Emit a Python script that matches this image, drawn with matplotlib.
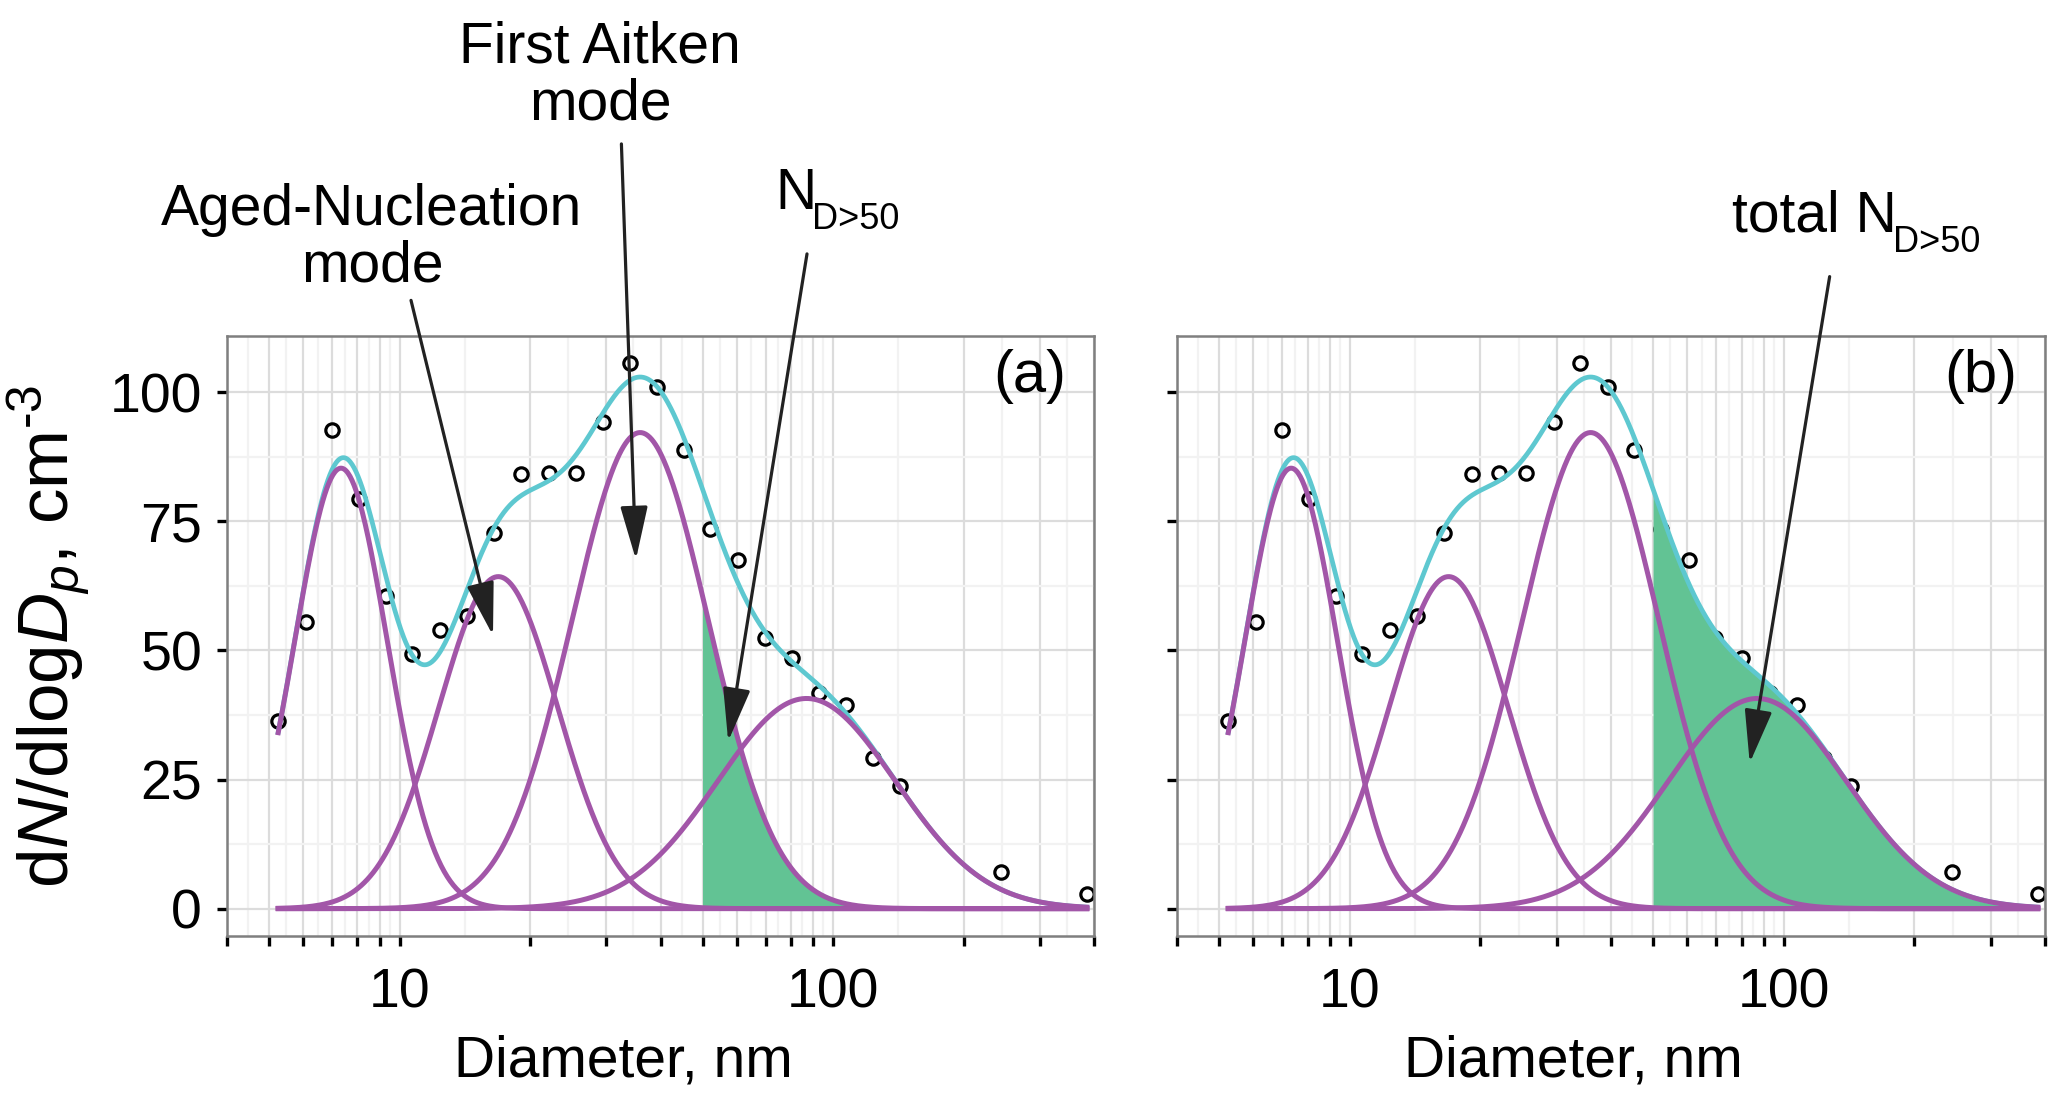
import numpy as np
import matplotlib
matplotlib.use("Agg")
import matplotlib.pyplot as plt
from matplotlib.ticker import NullFormatter

plt.rcParams['font.family'] = ['Liberation Sans', 'DejaVu Sans']
plt.rcParams['mathtext.fontset'] = 'custom'
plt.rcParams['mathtext.rm'] = 'Liberation Sans'
plt.rcParams['mathtext.it'] = 'Liberation Sans:italic'
plt.rcParams['mathtext.bf'] = 'Liberation Sans:bold'

# measured size distribution
diam_nm = [5.25, 6.07, 7.0, 8.05, 9.31, 10.7, 12.4, 14.3, 16.5, 19.1, 22.1, 25.5,
           29.5, 34.0, 39.3, 45.2, 52.1, 60.4, 69.6, 80.3, 92.9, 107.4, 123.6,
           142.6, 244.0, 385.0]
dn_dlogdp = [36.3, 55.6, 92.7, 79.4, 60.6, 49.3, 53.9, 56.7, 72.7, 84.2, 84.4, 84.3,
             94.3, 105.7, 101.1, 88.8, 73.6, 67.5, 52.4, 48.5, 41.7, 39.4, 29.2,
             23.8, 7.0, 2.9]

# fitted lognormal modes: mode diameter (nm), peak height, width in log10 units
mode_dg = [7.33, 16.9, 35.9, 86.9]
mode_peak = [85.3, 64.3, 92.2, 40.7]
mode_sigma = [0.107, 0.137, 0.157, 0.205]

cut_nm = 50
x_ticks = [4, 5, 6, 7, 8, 9, 10, 20, 30, 40, 50, 60, 70, 80, 90, 100, 200, 300, 400]
x_labels = [str(t) if t in (10, 100) else '' for t in x_ticks]
y_ticks = [0, 25, 50, 75, 100]
y_minor = [12.5, 37.5, 62.5, 87.5]

PURPLE = '#a256a8'
CYAN = '#5ec8d0'
GREEN = '#62c394'
ARROW = '#222222'


def lognormal(d, dg, peak, sigma):
    return peak * np.exp(-0.5 * ((np.log10(d) - np.log10(dg)) / sigma) ** 2)


def style_axes(ax, show_ylabels):
    ax.set_xscale('log')
    ax.set_xlim(4, 400)
    ax.set_ylim(-5.3, 110.9)
    ax.set_xticks(x_ticks)
    ax.set_xticklabels(x_labels)
    mids = [np.sqrt(a * b) for a, b in zip(x_ticks[:-1], x_ticks[1:])]
    ax.set_xticks(mids, minor=True)
    ax.xaxis.set_minor_formatter(NullFormatter())
    ax.set_yticks(y_ticks)
    ax.set_yticks(y_minor, minor=True)
    if not show_ylabels:
        ax.set_yticklabels([])
    ax.tick_params(which='major', length=7, width=2.4, color='black', labelsize=40)
    ax.tick_params(axis='x', which='major', pad=16)
    ax.tick_params(axis='y', which='major', pad=11)
    ax.tick_params(which='minor', length=0)
    ax.grid(which='major', color='#dcdcdc', lw=1.6)
    ax.grid(which='minor', color='#f2f2f2', lw=1.6)
    ax.set_axisbelow(True)
    for s in ax.spines.values():
        s.set_color('#7f7f7f')
        s.set_linewidth(1.8)
    ax.set_xlabel('Diameter, nm', fontsize=41)
    ax.xaxis.set_label_coords(0.457, -0.165)


def arrow(ax, tip, tail):
    ax.annotate('', xy=tip, xytext=tail, annotation_clip=False, zorder=10,
                arrowprops=dict(arrowstyle='-|>,head_length=3.3,head_width=0.85',
                                mutation_scale=10, lw=2.3, color=ARROW,
                                shrinkA=0, shrinkB=0))


def label_with_sub(ax, x, y, main, sub):
    t = ax.text(x, y, main, fontsize=41, ha='left', va='baseline')
    ax.annotate(sub, xy=(1, 0), xycoords=t, xytext=(-3, -5.8),
                textcoords='offset points', fontsize=26, ha='left', va='baseline')


def draw_panel(ax, fill_total):
    d = np.logspace(np.log10(min(diam_nm)), np.log10(max(diam_nm)), 800)
    d = np.union1d(d, [cut_nm])
    modes = [lognormal(d, g, p, s) for g, p, s in zip(mode_dg, mode_peak, mode_sigma)]
    total = np.sum(modes, axis=0)

    ax.plot(diam_nm, dn_dlogdp, 'o', ms=9.6, mfc='none', mec='black', mew=2.3, zorder=2)
    m = d >= cut_nm
    top = total[m] if fill_total else modes[2][m]
    ax.fill_between(d[m], 0, top, color=GREEN, lw=0, zorder=3)
    ax.plot(d, total, color=CYAN, lw=3.4, zorder=4)
    for y in modes:
        ax.plot(d, y, color=PURPLE, lw=3.6, zorder=5)


fig = plt.figure(figsize=(20.67, 11), dpi=100)
ax_a = fig.add_axes([227 / 2067, 1 - 936 / 1100, 867 / 2067, 600 / 1100])
ax_b = fig.add_axes([1177 / 2067, 1 - 936 / 1100, 868 / 2067, 600 / 1100])

style_axes(ax_a, True)
style_axes(ax_b, False)
draw_panel(ax_a, fill_total=False)
draw_panel(ax_b, fill_total=True)

ax_a.set_ylabel(r'd$N$/dlog$D_p$, cm$^{\text{-3}}$', fontsize=51)
ax_a.yaxis.set_label_coords(-0.156, 0.5)

ax_a.text(0.926, 0.933, '(a)', transform=ax_a.transAxes, fontsize=43,
          ha='center', va='center')
ax_b.text(0.926, 0.933, '(b)', transform=ax_b.transAxes, fontsize=43,
          ha='center', va='center')

# annotations, panel (a)
ax_a.text(8.64, 132.4, 'Aged-Nucleation', fontsize=41, ha='center', va='baseline')
ax_a.text(8.64, 121.4, 'mode', fontsize=41, ha='center', va='baseline')
arrow(ax_a, (16.43, 52.9), (10.63, 117.8))

ax_a.text(29.0, 163.9, 'First Aitken', fontsize=41, ha='center', va='baseline')
ax_a.text(29.0, 152.9, 'mode', fontsize=41, ha='center', va='baseline')
arrow(ax_a, (35.1, 67.6), (32.5, 148.1))

label_with_sub(ax_a, 73.5, 135.5, 'N', 'D>50')
arrow(ax_a, (57.3, 32.4), (87.1, 126.8))

# annotation, panel (b)
label_with_sub(ax_b, 76.2, 131.1, 'total N', 'D>50')
arrow(ax_b, (83.5, 28.2), (127.6, 122.4))

fig.savefig('out.png', dpi=100)
